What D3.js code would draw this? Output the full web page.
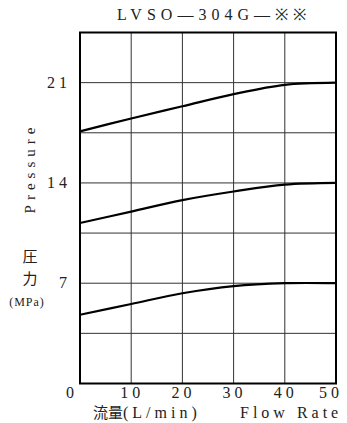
<!DOCTYPE html>
<html>
<head>
<meta charset="utf-8">
<script src="https://cdn.jsdelivr.net/npm/d3@7"></script>
<style>
  body { margin: 0; background: #fff; }
  svg text { font-family: "Liberation Serif", "DejaVu Serif", serif; }
  svg .cjk { font-family: "Noto Sans CJK JP", sans-serif; }
</style>
</head>
<body>
<script>
// flow rate, L/min
let flow = [0, 10, 20, 30, 40, 50];
// pressure curves, MPa
let highSet = [17.6, 18.5, 19.35, 20.2, 20.85, 21.0];
let midSet = [11.2, 12.0, 12.8, 13.4, 13.88, 14.0];
let lowSet = [4.8, 5.55, 6.3, 6.8, 7.0, 7.0];
let xTicks = [0, 10, 20, 30, 40, 50];
let yTicks = [7, 14, 21];
let yGrid = [3.5, 7, 10.5, 14, 17.5, 21];

let svg = d3.select('body').append('svg').attr('width', 347).attr('height', 423);

let x = d3.scaleLinear().domain([0, 50]).range([80, 336]);
let y = d3.scaleLinear().domain([0, 24.5]).range([383.5, 32.5]);

// grid
svg.selectAll('line.vg').data(xTicks.slice(1, -1)).enter().append('line')
  .attr('x1', d => x(d)).attr('x2', d => x(d))
  .attr('y1', y(0)).attr('y2', y(24.5))
  .attr('stroke', '#333').attr('stroke-width', 1);
svg.selectAll('line.hg').data(yGrid).enter().append('line')
  .attr('x1', x(0)).attr('x2', x(50))
  .attr('y1', d => y(d)).attr('y2', d => y(d))
  .attr('stroke', '#333').attr('stroke-width', 1);

// frame
svg.append('rect')
  .attr('x', x(0)).attr('y', y(24.5))
  .attr('width', x(50) - x(0)).attr('height', y(0) - y(24.5))
  .attr('fill', 'none').attr('stroke', '#000').attr('stroke-width', 2);

// curves
let line = d3.line().x((d, i) => x(flow[i])).y(d => y(d)).curve(d3.curveCatmullRom);
[highSet, midSet, lowSet].forEach(function(s) {
  svg.append('path').attr('d', line(s))
    .attr('fill', 'none').attr('stroke', '#000').attr('stroke-width', 2.2);
});

// tick labels
svg.selectAll('text.xt').data(xTicks).enter().append('text')
  .attr('x', d => d === 0 ? 72 : Math.min(x(d) + 1, 331))
  .attr('y', 398)
  .attr('text-anchor', 'middle')
  .attr('font-size', '16px')
  .attr('letter-spacing', '4px')
  .attr('fill', '#222')
  .text(d => d);
svg.selectAll('text.yt').data(yTicks).enter().append('text')
  .attr('x', 71)
  .attr('y', d => y(d) + 5)
  .attr('text-anchor', 'end')
  .attr('font-size', '16px')
  .attr('letter-spacing', '4px')
  .attr('fill', '#222')
  .text(d => d);

// title
svg.append('text').attr('x', 214).attr('y', 20)
  .attr('text-anchor', 'middle').attr('font-size', '16px')
  .attr('letter-spacing', '5px').attr('fill', '#222')
  .text('LVSO—304G—※※');

// y label
svg.append('text')
  .attr('transform', 'translate(35,168) rotate(-90)')
  .attr('text-anchor', 'middle').attr('font-size', '15px')
  .attr('letter-spacing', '5px').attr('fill', '#222')
  .text('Pressure');
svg.append('text').attr('class', 'cjk').attr('x', 30).attr('y', 262)
  .attr('text-anchor', 'middle').attr('font-size', '15px').attr('fill', '#222').text('圧');
svg.append('text').attr('class', 'cjk').attr('x', 30).attr('y', 284)
  .attr('text-anchor', 'middle').attr('font-size', '15px').attr('fill', '#222').text('力');
svg.append('text').attr('x', 27).attr('y', 306)
  .attr('text-anchor', 'middle').attr('font-size', '12px')
  .attr('letter-spacing', '1px').attr('fill', '#222')
  .text('(MPa)');

// x label
let xl = svg.append('text').attr('x', 93).attr('y', 418).attr('font-size', '16px').attr('fill', '#222');
xl.append('tspan').attr('class', 'cjk').attr('font-size', '15px').text('流量');
xl.append('tspan').attr('letter-spacing', '4px').text('(L/min)');
xl.append('tspan').attr('x', 240).attr('letter-spacing', '4px').text('Flow Rate');
</script>
</body>
</html>
